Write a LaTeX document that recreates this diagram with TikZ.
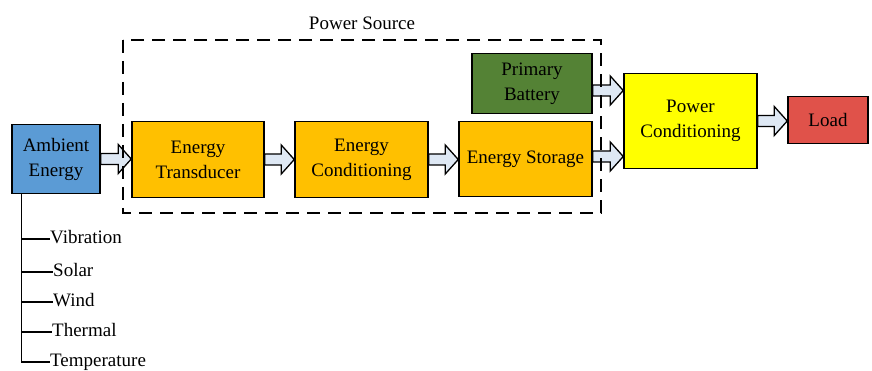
\documentclass[tikz,border=0pt]{standalone}
\usepackage{fontspec}
\setmainfont{Liberation Serif}
\usetikzlibrary{calc}
\definecolor{ambblue}{HTML}{5B9BD5}
\definecolor{orng}{HTML}{FFC000}
\definecolor{grn}{HTML}{548235}
\definecolor{yel}{HTML}{FFFF00}
\definecolor{lred}{HTML}{E0524A}
\definecolor{arrfill}{HTML}{DEE8F4}
\newcommand\fatarr[2]{\path[arrowshape] let \p1=(#1), \p2=(#2) in
  (\x1,\y1+5.5pt) -- (\x2-13pt,\y1+5.5pt) -- (\x2-13pt,\y1+14.5pt) -- (\x2,\y1)
  -- (\x2-13pt,\y1-14.5pt) -- (\x2-13pt,\y1-5.5pt) -- (\x1,\y1-5.5pt) -- cycle;}
\begin{document}
\begin{tikzpicture}[x=1pt,y=-1pt,
  box/.style={draw=black,line width=1.5pt,rectangle,inner sep=0pt,align=center,
    font=\fontsize{19}{25}\selectfont},
  lab/.style={anchor=west,inner sep=0pt,font=\fontsize{19}{23}\selectfont,text height=13pt,text depth=4pt},
  arrowshape/.style={draw=black,line width=1.3pt,fill=arrfill,line join=miter},
  dashbox/.style={draw=black,line width=1.5pt,dash pattern=on 13pt off 8pt},
  tree/.style={draw=black,line width=1.5pt}]
\useasboundingbox (0,0) rectangle (872,371);
% boxes
\node[box,fill=ambblue,minimum width=88pt,minimum height=69pt] (amb) at (56,159) {Ambient\\Energy};
\node[box,fill=orng,minimum width=132pt,minimum height=76pt] (tra) at (198,159.5) {Energy\\Transducer};
\node[box,fill=orng,minimum width=133pt,minimum height=76pt] (con) at (361.5,159.5) {Energy\\Conditioning};
\node[box,fill=orng,minimum width=133pt,minimum height=75pt] (sto) at (525.5,159) {Energy Storage};
\node[box,fill=grn,minimum width=120pt,minimum height=60pt] (bat) at (532,83.5) {Primary\\Battery};
\node[box,fill=yel,minimum width=133pt,minimum height=95pt] (pow) at (690.5,121) {Power\\Conditioning};
\node[box,fill=lred,minimum width=80pt,minimum height=47pt] (load) at (828,120) {Load};
% arrows
\fatarr{amb.east}{tra.west}
\fatarr{tra.east}{con.west}
\fatarr{con.east}{sto.west}
\fatarr{$(sto.east)+(0,-2.5)$}{pow.west}
\fatarr{$(bat.east)+(0,7)$}{pow.west}
\fatarr{pow.east}{load.west}
% power source dashed box
\coordinate (ps1) at (123,40);
\coordinate (ps2) at (601,213);
\draw[dashbox] (ps1) rectangle (ps2);
\node[inner sep=0pt,font=\fontsize{19}{23}\selectfont] (pstitle) at (362,23) {Power Source};
% ambient sources tree
\node[lab] (vib) at (50,239) {Vibration};
\node[lab] (sol) at (53,272) {Solar};
\node[lab] (win) at (53,302) {Wind};
\node[lab] (the) at (52,332) {Thermal};
\node[lab] (tem) at (50,362) {Temperature};
\coordinate (trunk) at ($(amb.south west)+(10,0)$);
\draw[tree] (trunk) |- (tem.west);
\draw[tree] (trunk |- vib.west) -- (vib.west);
\draw[tree] (trunk |- sol.west) -- (sol.west);
\draw[tree] (trunk |- win.west) -- (win.west);
\draw[tree] (trunk |- the.west) -- (the.west);
\end{tikzpicture}
\end{document}
